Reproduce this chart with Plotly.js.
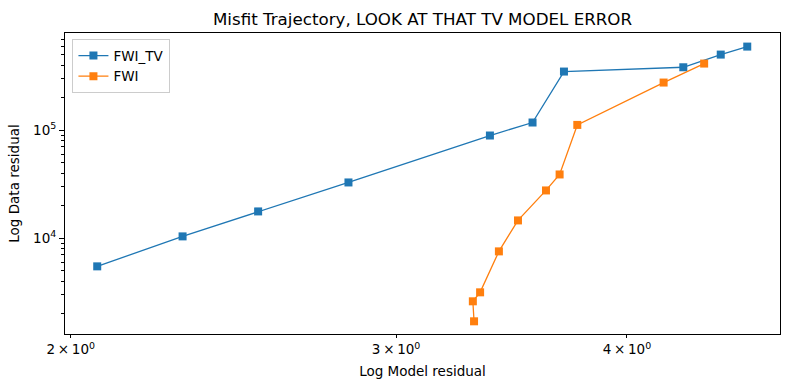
<!DOCTYPE html>
<html>
<head>
<meta charset="utf-8">
<script src="https://cdn.plot.ly/plotly-3.0.1.min.js"></script>
<style>html,body{margin:0;padding:0;background:#fff;}#chart{width:789px;height:390px;}</style>
</head>
<body>
<div id="chart"></div>
<script>
// FWI_TV trajectory (model residual, data residual)
const fwiTvModel = [4.647, 4.496, 4.291, 3.698, 3.556, 3.372, 2.827, 2.526, 2.299, 2.067];
const fwiTvData  = [595700, 502200, 383100, 349600, 117850, 89300, 32790, 17670, 10370, 5470];
// FWI trajectory
const fwiModel = [4.404, 4.187, 3.760, 3.678, 3.616, 3.492, 3.410, 3.331, 3.301, 3.306];
const fwiData  = [414600, 276500, 111970, 38890, 27650, 14580, 7530, 3142, 2594, 1693];

const xTickVals = [2, 3, 4];
const xTickText = ['2\u2009\u00d7\u200910<sup>0</sup>', '3\u2009\u00d7\u200910<sup>0</sup>', '4\u2009\u00d7\u200910<sup>0</sup>'];
const yTickVals = [1e4, 1e5];
const yTickText = ['10<sup>4</sup>', '10<sup>5</sup>'];
const yMinorVals = [2e3, 3e3, 4e3, 5e3, 6e3, 7e3, 8e3, 9e3, 2e4, 3e4, 4e4, 5e4, 6e4, 7e4, 8e4, 9e4, 2e5, 3e5, 4e5, 5e5, 6e5, 7e5];

const font = 'DejaVu Sans, sans-serif';

const traces = [
  {x: fwiTvModel, y: fwiTvData, name: 'FWI_TV', mode: 'lines+markers', type: 'scatter',
   line: {color: '#1f77b4', width: 1.3}, marker: {symbol: 'square', size: 8, color: '#1f77b4'}},
  {x: fwiModel, y: fwiData, name: 'FWI', mode: 'lines+markers', type: 'scatter',
   line: {color: '#ff7f0e', width: 1.3}, marker: {symbol: 'square', size: 8, color: '#ff7f0e'}}
];

const layout = {
  width: 789, height: 390,
  margin: {l: 65, r: 9, t: 33, b: 56},
  paper_bgcolor: '#fff', plot_bgcolor: '#fff',
  font: {family: font, color: '#000', size: 13.5},
  title: {text: 'Misfit Trajectory, LOOK AT THAT TV MODEL ERROR', font: {family: font, size: 16.7, color: '#000'},
          x: 0.5355, xanchor: 'center', y: 1, yref: 'paper', yanchor: 'bottom', pad: {b: 8}},
  xaxis: {type: 'log', range: [0.2979, 0.6849], tickmode: 'array', tickvals: xTickVals, ticktext: xTickText,
          ticks: 'outside', ticklen: 3, tickwidth: 1, tickcolor: '#000',
          showline: true, linecolor: '#000', linewidth: 1, mirror: true, showgrid: false, zeroline: false,
          tickfont: {family: font, size: 13.5},
          title: {text: 'Log Model residual', font: {family: font, size: 13.5}, standoff: 10}},
  yaxis: {type: 'log', range: [3.111, 5.901], tickmode: 'array', tickvals: yTickVals, ticktext: yTickText,
          ticks: 'outside', ticklen: 5, tickwidth: 1, tickcolor: '#000',
          minor: {tickmode: 'array', tickvals: yMinorVals, ticks: 'outside', ticklen: 3, tickwidth: 1, tickcolor: '#000', showgrid: false},
          showline: true, linecolor: '#000', linewidth: 1, mirror: true, showgrid: false, zeroline: false,
          tickfont: {family: font, size: 13.5},
          title: {text: 'Log Data residual', font: {family: font, size: 13.5}, standoff: 10}},
  legend: {x: 0.0104, y: 0.979, xanchor: 'left', yanchor: 'top', bgcolor: 'rgba(255,255,255,0.8)',
           bordercolor: '#cccccc', borderwidth: 1, font: {family: font, size: 13.5}, itemwidth: 30},
  showlegend: true
};

Plotly.newPlot('chart', traces, layout, {displayModeBar: false, staticPlot: true});
</script>
</body>
</html>
